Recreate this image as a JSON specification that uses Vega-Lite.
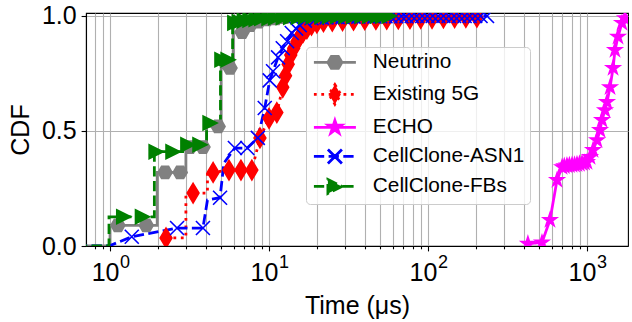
{
  "$schema": "https://vega.github.io/schema/vega-lite/v6.json",
  "width": 542,
  "height": 233,
  "autosize": {"type": "none"},
  "padding": {"left": 86, "top": 13, "right": 4, "bottom": 76},
  "background": "white",
  "config": {
    "font": "Liberation Sans",
    "view": {"stroke": "black", "strokeWidth": 1.1},
    "axis": {"labelFont": "Liberation Sans", "titleFont": "Liberation Sans", "labelColor": "black", "titleColor": "black", "titleFontWeight": "normal", "tickColor": "black", "domainColor": "black", "domainWidth": 1.1, "tickWidth": 1.1, "gridColor": "#b0b0b0", "gridWidth": 1.1, "gridOpacity": 1}
  },
  "resolve": {
    "axis": {"x": "independent"},
    "scale": {"shape": "independent", "fill": "independent", "stroke": "independent", "strokeDash": "independent", "color": "independent"}
  },
  "datasets": {
    "curves": [
      {"series": "Neutrino", "x": 0.5, "y": 0}, {"series": "Neutrino", "x": 1.0, "y": 0}, {"series": "Neutrino", "x": 1.0, "y": 0.09}, {"series": "Neutrino", "x": 1.98, "y": 0.09}, {"series": "Neutrino", "x": 1.98, "y": 0.32}, {"series": "Neutrino", "x": 3.0, "y": 0.32}, {"series": "Neutrino", "x": 3.0, "y": 0.43}, {"series": "Neutrino", "x": 4.05, "y": 0.43}, {"series": "Neutrino", "x": 4.05, "y": 0.52}, {"series": "Neutrino", "x": 5.0, "y": 0.52}, {"series": "Neutrino", "x": 5.0, "y": 0.774}, {"series": "Neutrino", "x": 5.95, "y": 0.774}, {"series": "Neutrino", "x": 5.95, "y": 0.93}, {"series": "Neutrino", "x": 6.77, "y": 0.93}, {"series": "Neutrino", "x": 7.6, "y": 0.96}, {"series": "Neutrino", "x": 8.6, "y": 0.975}, {"series": "Neutrino", "x": 9.7, "y": 0.985}, {"series": "Neutrino", "x": 11, "y": 0.99}, {"series": "Neutrino", "x": 12.5, "y": 0.995}, {"series": "Neutrino", "x": 15, "y": 1.0}, {"series": "Neutrino", "x": 45, "y": 1.0},
      {"series": "Existing 5G", "x": 2.25, "y": 0.035}, {"series": "Existing 5G", "x": 3.0, "y": 0.035}, {"series": "Existing 5G", "x": 3.0, "y": 0.23}, {"series": "Existing 5G", "x": 3.33, "y": 0.23}, {"series": "Existing 5G", "x": 4.1, "y": 0.23}, {"series": "Existing 5G", "x": 4.1, "y": 0.32}, {"series": "Existing 5G", "x": 4.45, "y": 0.32}, {"series": "Existing 5G", "x": 5.6, "y": 0.33}, {"series": "Existing 5G", "x": 7.8, "y": 0.33}, {"series": "Existing 5G", "x": 8.77, "y": 0.47}, {"series": "Existing 5G", "x": 10.0, "y": 0.555}, {"series": "Existing 5G", "x": 11.2, "y": 0.58}, {"series": "Existing 5G", "x": 12.2, "y": 0.69}, {"series": "Existing 5G", "x": 12.7, "y": 0.74}, {"series": "Existing 5G", "x": 13.2, "y": 0.79}, {"series": "Existing 5G", "x": 13.7, "y": 0.83}, {"series": "Existing 5G", "x": 14.3, "y": 0.86}, {"series": "Existing 5G", "x": 15.0, "y": 0.89}, {"series": "Existing 5G", "x": 15.6, "y": 0.91}, {"series": "Existing 5G", "x": 16.4, "y": 0.93}, {"series": "Existing 5G", "x": 17.3, "y": 0.945}, {"series": "Existing 5G", "x": 18.5, "y": 0.96}, {"series": "Existing 5G", "x": 20, "y": 0.97}, {"series": "Existing 5G", "x": 25, "y": 0.978}, {"series": "Existing 5G", "x": 34, "y": 0.982}, {"series": "Existing 5G", "x": 47, "y": 0.985}, {"series": "Existing 5G", "x": 65, "y": 0.987}, {"series": "Existing 5G", "x": 90, "y": 0.99}, {"series": "Existing 5G", "x": 125, "y": 0.992}, {"series": "Existing 5G", "x": 203, "y": 0.995},
      {"series": "ECHO", "x": 425, "y": 0.01}, {"series": "ECHO", "x": 521, "y": 0.015}, {"series": "ECHO", "x": 585, "y": 0.113}, {"series": "ECHO", "x": 648, "y": 0.287}, {"series": "ECHO", "x": 697, "y": 0.343}, {"series": "ECHO", "x": 748, "y": 0.35}, {"series": "ECHO", "x": 805, "y": 0.352}, {"series": "ECHO", "x": 865, "y": 0.355}, {"series": "ECHO", "x": 931, "y": 0.36}, {"series": "ECHO", "x": 1000, "y": 0.365}, {"series": "ECHO", "x": 1045, "y": 0.387}, {"series": "ECHO", "x": 1091, "y": 0.417}, {"series": "ECHO", "x": 1157, "y": 0.46}, {"series": "ECHO", "x": 1208, "y": 0.504}, {"series": "ECHO", "x": 1243, "y": 0.548}, {"series": "ECHO", "x": 1298, "y": 0.59}, {"series": "ECHO", "x": 1336, "y": 0.626}, {"series": "ECHO", "x": 1396, "y": 0.69}, {"series": "ECHO", "x": 1459, "y": 0.774}, {"series": "ECHO", "x": 1500, "y": 0.852}, {"series": "ECHO", "x": 1567, "y": 0.91}, {"series": "ECHO", "x": 1660, "y": 0.97}, {"series": "ECHO", "x": 1734, "y": 0.99}, {"series": "ECHO", "x": 1850, "y": 1.0},
      {"series": "CellClone-ASN1", "x": 0.5, "y": 0}, {"series": "CellClone-ASN1", "x": 0.985, "y": 0}, {"series": "CellClone-ASN1", "x": 1.37, "y": 0.04}, {"series": "CellClone-ASN1", "x": 2.64, "y": 0.078}, {"series": "CellClone-ASN1", "x": 3.84, "y": 0.078}, {"series": "CellClone-ASN1", "x": 4.1, "y": 0.2}, {"series": "CellClone-ASN1", "x": 4.92, "y": 0.21}, {"series": "CellClone-ASN1", "x": 5.2, "y": 0.36}, {"series": "CellClone-ASN1", "x": 6.1, "y": 0.426}, {"series": "CellClone-ASN1", "x": 7.3, "y": 0.426}, {"series": "CellClone-ASN1", "x": 8.5, "y": 0.47}, {"series": "CellClone-ASN1", "x": 9.4, "y": 0.6}, {"series": "CellClone-ASN1", "x": 10.1, "y": 0.72}, {"series": "CellClone-ASN1", "x": 10.6, "y": 0.76}, {"series": "CellClone-ASN1", "x": 11.4, "y": 0.82}, {"series": "CellClone-ASN1", "x": 12.2, "y": 0.86}, {"series": "CellClone-ASN1", "x": 13.0, "y": 0.89}, {"series": "CellClone-ASN1", "x": 13.9, "y": 0.926}, {"series": "CellClone-ASN1", "x": 14.8, "y": 0.945}, {"series": "CellClone-ASN1", "x": 15.6, "y": 0.96}, {"series": "CellClone-ASN1", "x": 16.8, "y": 0.98}, {"series": "CellClone-ASN1", "x": 18.5, "y": 0.99}, {"series": "CellClone-ASN1", "x": 25, "y": 0.995}, {"series": "CellClone-ASN1", "x": 39.5, "y": 0.998}, {"series": "CellClone-ASN1", "x": 79, "y": 1.0}, {"series": "CellClone-ASN1", "x": 235, "y": 1.0},
      {"series": "CellClone-FBs", "x": 0.5, "y": 0}, {"series": "CellClone-FBs", "x": 0.985, "y": 0}, {"series": "CellClone-FBs", "x": 0.985, "y": 0.127}, {"series": "CellClone-FBs", "x": 1.9, "y": 0.127}, {"series": "CellClone-FBs", "x": 1.9, "y": 0.41}, {"series": "CellClone-FBs", "x": 2.95, "y": 0.41}, {"series": "CellClone-FBs", "x": 2.95, "y": 0.44}, {"series": "CellClone-FBs", "x": 4.05, "y": 0.44}, {"series": "CellClone-FBs", "x": 4.05, "y": 0.535}, {"series": "CellClone-FBs", "x": 4.95, "y": 0.535}, {"series": "CellClone-FBs", "x": 4.95, "y": 0.81}, {"series": "CellClone-FBs", "x": 5.9, "y": 0.81}, {"series": "CellClone-FBs", "x": 5.9, "y": 0.97}, {"series": "CellClone-FBs", "x": 6.5, "y": 0.975}, {"series": "CellClone-FBs", "x": 8.3, "y": 0.986}, {"series": "CellClone-FBs", "x": 10, "y": 0.99}, {"series": "CellClone-FBs", "x": 13.7, "y": 0.995}, {"series": "CellClone-FBs", "x": 21.5, "y": 0.998}, {"series": "CellClone-FBs", "x": 34, "y": 0.999}, {"series": "CellClone-FBs", "x": 38.5, "y": 1.0}, {"series": "CellClone-FBs", "x": 57, "y": 1.0}
    ],
    "markers": [
      {"series": "Neutrino", "x": 1.12, "y": 0.09}, {"series": "Neutrino", "x": 1.69, "y": 0.09}, {"series": "Neutrino", "x": 2.22, "y": 0.32}, {"series": "Neutrino", "x": 2.76, "y": 0.32}, {"series": "Neutrino", "x": 3.18, "y": 0.43}, {"series": "Neutrino", "x": 3.84, "y": 0.43}, {"series": "Neutrino", "x": 4.78, "y": 0.52}, {"series": "Neutrino", "x": 5.68, "y": 0.774}, {"series": "Neutrino", "x": 6.77, "y": 0.93}, {"series": "Neutrino", "x": 7.6, "y": 0.96}, {"series": "Neutrino", "x": 8.6, "y": 0.975}, {"series": "Neutrino", "x": 9.7, "y": 0.985}, {"series": "Neutrino", "x": 11, "y": 0.99}, {"series": "Neutrino", "x": 12.5, "y": 0.995}, {"series": "Neutrino", "x": 15, "y": 1.0}, {"series": "Neutrino", "x": 19, "y": 1.0}, {"series": "Neutrino", "x": 25, "y": 1.0}, {"series": "Neutrino", "x": 33, "y": 1.0}, {"series": "Neutrino", "x": 45, "y": 1.0},
      {"series": "Existing 5G", "x": 2.25, "y": 0.035}, {"series": "Existing 5G", "x": 3.33, "y": 0.23}, {"series": "Existing 5G", "x": 4.45, "y": 0.32}, {"series": "Existing 5G", "x": 5.6, "y": 0.33}, {"series": "Existing 5G", "x": 6.66, "y": 0.33}, {"series": "Existing 5G", "x": 7.8, "y": 0.33}, {"series": "Existing 5G", "x": 8.77, "y": 0.47}, {"series": "Existing 5G", "x": 10.0, "y": 0.555}, {"series": "Existing 5G", "x": 11.2, "y": 0.58}, {"series": "Existing 5G", "x": 12.2, "y": 0.69}, {"series": "Existing 5G", "x": 12.7, "y": 0.74}, {"series": "Existing 5G", "x": 13.2, "y": 0.79}, {"series": "Existing 5G", "x": 13.7, "y": 0.83}, {"series": "Existing 5G", "x": 14.3, "y": 0.86}, {"series": "Existing 5G", "x": 15.0, "y": 0.89}, {"series": "Existing 5G", "x": 15.6, "y": 0.91}, {"series": "Existing 5G", "x": 16.4, "y": 0.93}, {"series": "Existing 5G", "x": 17.3, "y": 0.945}, {"series": "Existing 5G", "x": 18.5, "y": 0.96}, {"series": "Existing 5G", "x": 20, "y": 0.97}, {"series": "Existing 5G", "x": 22, "y": 0.975}, {"series": "Existing 5G", "x": 25, "y": 0.978}, {"series": "Existing 5G", "x": 29, "y": 0.98}, {"series": "Existing 5G", "x": 34, "y": 0.982}, {"series": "Existing 5G", "x": 40, "y": 0.984}, {"series": "Existing 5G", "x": 47, "y": 0.985}, {"series": "Existing 5G", "x": 55, "y": 0.986}, {"series": "Existing 5G", "x": 65, "y": 0.987}, {"series": "Existing 5G", "x": 77, "y": 0.988}, {"series": "Existing 5G", "x": 90, "y": 0.99}, {"series": "Existing 5G", "x": 106, "y": 0.99}, {"series": "Existing 5G", "x": 125, "y": 0.992}, {"series": "Existing 5G", "x": 147, "y": 0.993}, {"series": "Existing 5G", "x": 173, "y": 0.994}, {"series": "Existing 5G", "x": 203, "y": 0.995},
      {"series": "ECHO", "x": 425, "y": 0.01}, {"series": "ECHO", "x": 521, "y": 0.015}, {"series": "ECHO", "x": 585, "y": 0.113}, {"series": "ECHO", "x": 648, "y": 0.287}, {"series": "ECHO", "x": 697, "y": 0.343}, {"series": "ECHO", "x": 720, "y": 0.347}, {"series": "ECHO", "x": 748, "y": 0.35}, {"series": "ECHO", "x": 775, "y": 0.351}, {"series": "ECHO", "x": 805, "y": 0.352}, {"series": "ECHO", "x": 835, "y": 0.353}, {"series": "ECHO", "x": 865, "y": 0.355}, {"series": "ECHO", "x": 897, "y": 0.357}, {"series": "ECHO", "x": 931, "y": 0.36}, {"series": "ECHO", "x": 965, "y": 0.362}, {"series": "ECHO", "x": 1000, "y": 0.365}, {"series": "ECHO", "x": 1045, "y": 0.387}, {"series": "ECHO", "x": 1091, "y": 0.417}, {"series": "ECHO", "x": 1157, "y": 0.46}, {"series": "ECHO", "x": 1208, "y": 0.504}, {"series": "ECHO", "x": 1243, "y": 0.548}, {"series": "ECHO", "x": 1298, "y": 0.59}, {"series": "ECHO", "x": 1336, "y": 0.626}, {"series": "ECHO", "x": 1396, "y": 0.69}, {"series": "ECHO", "x": 1459, "y": 0.774}, {"series": "ECHO", "x": 1500, "y": 0.852}, {"series": "ECHO", "x": 1567, "y": 0.91}, {"series": "ECHO", "x": 1660, "y": 0.97}, {"series": "ECHO", "x": 1734, "y": 0.99},
      {"series": "CellClone-ASN1", "x": 1.37, "y": 0.04}, {"series": "CellClone-ASN1", "x": 2.64, "y": 0.078}, {"series": "CellClone-ASN1", "x": 3.84, "y": 0.078}, {"series": "CellClone-ASN1", "x": 4.92, "y": 0.21}, {"series": "CellClone-ASN1", "x": 6.1, "y": 0.426}, {"series": "CellClone-ASN1", "x": 7.3, "y": 0.426}, {"series": "CellClone-ASN1", "x": 8.5, "y": 0.47}, {"series": "CellClone-ASN1", "x": 9.4, "y": 0.6}, {"series": "CellClone-ASN1", "x": 10.1, "y": 0.72}, {"series": "CellClone-ASN1", "x": 10.6, "y": 0.76}, {"series": "CellClone-ASN1", "x": 11.4, "y": 0.82}, {"series": "CellClone-ASN1", "x": 12.2, "y": 0.86}, {"series": "CellClone-ASN1", "x": 13.0, "y": 0.89}, {"series": "CellClone-ASN1", "x": 13.9, "y": 0.926}, {"series": "CellClone-ASN1", "x": 14.8, "y": 0.945}, {"series": "CellClone-ASN1", "x": 15.6, "y": 0.96}, {"series": "CellClone-ASN1", "x": 16.8, "y": 0.98}, {"series": "CellClone-ASN1", "x": 18.5, "y": 0.99}, {"series": "CellClone-ASN1", "x": 20, "y": 0.992}, {"series": "CellClone-ASN1", "x": 21.5, "y": 0.993}, {"series": "CellClone-ASN1", "x": 23, "y": 0.994}, {"series": "CellClone-ASN1", "x": 25, "y": 0.995}, {"series": "CellClone-ASN1", "x": 27, "y": 0.995}, {"series": "CellClone-ASN1", "x": 29, "y": 0.996}, {"series": "CellClone-ASN1", "x": 31.5, "y": 0.996}, {"series": "CellClone-ASN1", "x": 34, "y": 0.997}, {"series": "CellClone-ASN1", "x": 36.5, "y": 0.997}, {"series": "CellClone-ASN1", "x": 39.5, "y": 0.998}, {"series": "CellClone-ASN1", "x": 42.5, "y": 0.998}, {"series": "CellClone-ASN1", "x": 46, "y": 0.998}, {"series": "CellClone-ASN1", "x": 50, "y": 0.999}, {"series": "CellClone-ASN1", "x": 54, "y": 0.999}, {"series": "CellClone-ASN1", "x": 58, "y": 0.999}, {"series": "CellClone-ASN1", "x": 63, "y": 0.999}, {"series": "CellClone-ASN1", "x": 68, "y": 0.999}, {"series": "CellClone-ASN1", "x": 73, "y": 0.999}, {"series": "CellClone-ASN1", "x": 79, "y": 1.0}, {"series": "CellClone-ASN1", "x": 85, "y": 1.0}, {"series": "CellClone-ASN1", "x": 92, "y": 1.0}, {"series": "CellClone-ASN1", "x": 99, "y": 1.0}, {"series": "CellClone-ASN1", "x": 107, "y": 1.0}, {"series": "CellClone-ASN1", "x": 116, "y": 1.0}, {"series": "CellClone-ASN1", "x": 125, "y": 1.0}, {"series": "CellClone-ASN1", "x": 135, "y": 1.0}, {"series": "CellClone-ASN1", "x": 146, "y": 1.0}, {"series": "CellClone-ASN1", "x": 157, "y": 1.0}, {"series": "CellClone-ASN1", "x": 170, "y": 1.0}, {"series": "CellClone-ASN1", "x": 183, "y": 1.0}, {"series": "CellClone-ASN1", "x": 198, "y": 1.0}, {"series": "CellClone-ASN1", "x": 214, "y": 1.0}, {"series": "CellClone-ASN1", "x": 235, "y": 1.0},
      {"series": "CellClone-FBs", "x": 1.22, "y": 0.127}, {"series": "CellClone-FBs", "x": 1.6, "y": 0.127}, {"series": "CellClone-FBs", "x": 1.95, "y": 0.41}, {"series": "CellClone-FBs", "x": 2.49, "y": 0.41}, {"series": "CellClone-FBs", "x": 3.09, "y": 0.44}, {"series": "CellClone-FBs", "x": 3.68, "y": 0.44}, {"series": "CellClone-FBs", "x": 4.26, "y": 0.535}, {"series": "CellClone-FBs", "x": 5.06, "y": 0.81}, {"series": "CellClone-FBs", "x": 5.53, "y": 0.81}, {"series": "CellClone-FBs", "x": 6.1, "y": 0.97}, {"series": "CellClone-FBs", "x": 6.5, "y": 0.975}, {"series": "CellClone-FBs", "x": 7.0, "y": 0.98}, {"series": "CellClone-FBs", "x": 7.6, "y": 0.983}, {"series": "CellClone-FBs", "x": 8.3, "y": 0.986}, {"series": "CellClone-FBs", "x": 9.0, "y": 0.99}, {"series": "CellClone-FBs", "x": 10, "y": 0.99}, {"series": "CellClone-FBs", "x": 11, "y": 0.992}, {"series": "CellClone-FBs", "x": 12.3, "y": 0.994}, {"series": "CellClone-FBs", "x": 13.7, "y": 0.995}, {"series": "CellClone-FBs", "x": 15.3, "y": 0.996}, {"series": "CellClone-FBs", "x": 17, "y": 0.997}, {"series": "CellClone-FBs", "x": 19, "y": 0.998}, {"series": "CellClone-FBs", "x": 21.5, "y": 0.998}, {"series": "CellClone-FBs", "x": 24, "y": 0.998}, {"series": "CellClone-FBs", "x": 27, "y": 0.999}, {"series": "CellClone-FBs", "x": 30.5, "y": 0.999}, {"series": "CellClone-FBs", "x": 34, "y": 0.999}, {"series": "CellClone-FBs", "x": 38.5, "y": 1.0}, {"series": "CellClone-FBs", "x": 43, "y": 1.0}, {"series": "CellClone-FBs", "x": 48, "y": 1.0}, {"series": "CellClone-FBs", "x": 52, "y": 1.0}, {"series": "CellClone-FBs", "x": 57, "y": 1.0}
    ]
  },
  "layer": [
    {
      "data": {"name": "curves"},
      "mark": {"type": "line", "strokeWidth": 2.78, "clip": true},
      "encoding": {
        "x": {
          "field": "x", "type": "quantitative",
          "scale": {"type": "log", "domain": [0.706, 1811], "nice": false},
          "axis": {
            "orient": "bottom",
            "title": "Time (μs)", "titleFontSize": 25, "titlePadding": 8,
            "values": [0.8, 0.9, 1, 2, 3, 4, 5, 6, 7, 8, 9, 10, 20, 30, 40, 50, 60, 70, 80, 90, 100, 200, 300, 400, 500, 600, 700, 800, 900, 1000],
            "labelExpr": "(datum.value == 1 || datum.value == 10 || datum.value == 100 || datum.value == 1000) ? '10' : ''",
            "labelFontSize": 25, "labelPadding": 10, "labelOffset": -5, "labelOverlap": false, "labelFlush": false, "labelBound": false,
            "tickSize": {"condition": {"test": "datum.value == 1 || datum.value == 10 || datum.value == 100 || datum.value == 1000", "value": 4.9}, "value": 2.8},
            "grid": true
          }
        },
        "y": {
          "field": "y", "type": "quantitative",
          "scale": {"domain": [0, 1.013], "nice": false, "zero": false},
          "axis": {"title": "CDF", "titleFontSize": 25, "titlePadding": 8, "values": [0, 0.5, 1], "format": ".1f", "labelFontSize": 25, "labelPadding": 4.9, "tickSize": 4.9, "grid": true}
        },
        "color": {
          "field": "series", "type": "nominal",
          "scale": {"domain": ["CellClone-FBs", "CellClone-ASN1", "ECHO", "Existing 5G", "Neutrino"], "range": ["#008000", "#0000ff", "#ff00ff", "#ff0000", "#808080"]},
          "legend": null
        },
        "strokeDash": {
          "field": "series", "type": "nominal",
          "scale": {"domain": ["CellClone-FBs", "CellClone-ASN1", "ECHO", "Existing 5G", "Neutrino"], "range": [[10.3, 4.4], [10.3, 4.4], [1, 0], [2.8, 4.6], [1, 0]]},
          "legend": null
        },
        "order": {"value": null}
      }
    },
    {
      "data": {"name": "markers"},
      "mark": {"type": "point", "filled": true, "size": 196, "strokeWidth": 1.6, "opacity": 1, "clip": true},
      "encoding": {
        "x": {
          "field": "x", "type": "quantitative",
          "axis": {
            "orient": "bottom", "title": null, "values": [1, 10, 100, 1000],
            "labelExpr": "datum.value == 1 ? '0' : datum.value == 10 ? '1' : datum.value == 100 ? '2' : '3'",
            "labelFontSize": 18, "labelOffset": 14.5, "labelPadding": 7.5, "ticks": false, "tickSize": 0, "domain": false, "grid": false,
            "labelOverlap": false, "labelFlush": false, "labelBound": false
          }
        },
        "y": {"field": "y", "type": "quantitative"},
        "fill": {
          "field": "series", "type": "nominal",
          "scale": {"domain": ["CellClone-FBs", "CellClone-ASN1", "ECHO", "Existing 5G", "Neutrino"], "range": ["#008000", "#0000ff", "#ff00ff", "#ff0000", "#808080"]},
          "legend": null
        },
        "stroke": {
          "field": "series", "type": "nominal",
          "scale": {"domain": ["CellClone-FBs", "CellClone-ASN1", "ECHO", "Existing 5G", "Neutrino"], "range": ["#008000", "#0000ff", "#ff00ff", "#ff0000", "#808080"]},
          "legend": null
        },
        "shape": {
          "field": "series", "type": "nominal",
          "scale": {"domain": ["CellClone-FBs", "CellClone-ASN1", "ECHO", "Existing 5G", "Neutrino"], "range": ["M1,0L-1,1L-1,-1Z", "M-1,-1L1,1M-1,1L1,-1", "M0,-1L0.225,-0.309L0.951,-0.309L0.363,0.118L0.588,0.809L0,0.382L-0.588,0.809L-0.363,0.118L-0.951,-0.309L-0.225,-0.309Z", "M0,-1.4L0.84,0L0,1.4L-0.84,0Z", "M-1,0L-0.5,-0.866L0.5,-0.866L1,0L0.5,0.866L-0.5,0.866Z"]},
          "legend": null
        }
      }
    },
    {
      "data": {"name": "markers"},
      "mark": {"type": "point", "filled": true, "size": 196, "strokeWidth": 2.78, "opacity": 0, "clip": true},
      "encoding": {
        "x": {"field": "x", "type": "quantitative", "axis": null},
        "y": {"field": "y", "type": "quantitative"},
        "shape": {
          "field": "series", "type": "nominal",
          "scale": {"domain": ["Neutrino", "Existing 5G", "ECHO", "CellClone-ASN1", "CellClone-FBs"], "range": [
            "M-3,0L3,0M-1,0L-0.5,-0.866L0.5,-0.866L1,0L0.5,0.866L-0.5,0.866Z",
            "M-3,0L3,0M0,-1.4L0.84,0L0,1.4L-0.84,0Z",
            "M-3,0L3,0M0,-1L0.225,-0.309L0.951,-0.309L0.363,0.118L0.588,0.809L0,0.382L-0.588,0.809L-0.363,0.118L-0.951,-0.309L-0.225,-0.309Z",
            "M-3,0L3,0M0,0L1,1M0,0L-1,-1M0,0L1,-1M0,0L-1,1",
            "M-3,0L3,0M1,0L-1,1L-1,-1Z"
          ]},
          "legend": {
            "title": null, "orient": "none", "legendX": 220, "legendY": 34,
            "padding": 5, "symbolOffset": 13.5, "labelOffset": 27.5, "rowPadding": 4,
            "labelFontSize": 20.8, "labelFont": "Liberation Sans", "labelColor": "black", "labelLimit": 400,
            "fillColor": "rgba(255,255,255,0.8)", "strokeColor": "#cccccc", "cornerRadius": 4,
            "symbolSize": 196, "symbolStrokeWidth": 2.78, "symbolOpacity": 1
          }
        },
        "fill": {
          "field": "series", "type": "nominal",
          "scale": {"domain": ["Neutrino", "Existing 5G", "ECHO", "CellClone-ASN1", "CellClone-FBs"], "range": ["#808080", "#ff0000", "#ff00ff", "#0000ff", "#008000"]}
        },
        "stroke": {
          "field": "series", "type": "nominal",
          "scale": {"domain": ["Neutrino", "Existing 5G", "ECHO", "CellClone-ASN1", "CellClone-FBs"], "range": ["#808080", "#ff0000", "#ff00ff", "#0000ff", "#008000"]}
        },
        "strokeDash": {
          "field": "series", "type": "nominal",
          "scale": {"domain": ["Neutrino", "Existing 5G", "ECHO", "CellClone-ASN1", "CellClone-FBs"], "range": [[1, 0], [2.8, 4.6], [1, 0], [10.3, 4.4], [10.3, 4.4]]}
        }
      }
    }
  ]
}
